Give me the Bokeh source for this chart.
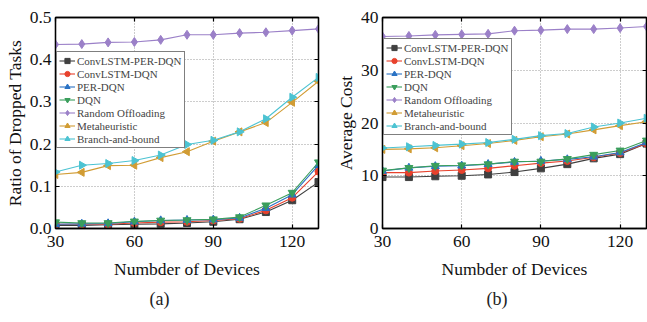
import math
from bokeh.plotting import figure
from bokeh.layouts import row
from bokeh.models import FixedTicker, LinearAxis, Title, Range1d, NumeralTickFormatter, CustomJSTickFormatter
from bokeh.embed import file_html
from bokeh.resources import INLINE

devices = [30, 40, 50, 60, 70, 80, 90, 100, 110, 120, 130]

names = ["ConvLSTM-PER-DQN", "ConvLSTM-DQN", "PER-DQN", "DQN",
         "Random Offloading", "Metaheuristic", "Branch-and-bound"]

# (a) Ratio of dropped tasks
drop_convlstm_per_dqn = [0.007, 0.007, 0.009, 0.010, 0.011, 0.013, 0.016, 0.022, 0.039, 0.067, 0.110]
drop_convlstm_dqn = [0.010, 0.010, 0.010, 0.013, 0.015, 0.016, 0.019, 0.023, 0.043, 0.073, 0.135]
drop_per_dqn = [0.010, 0.011, 0.012, 0.016, 0.019, 0.020, 0.021, 0.025, 0.048, 0.080, 0.150]
drop_dqn = [0.015, 0.013, 0.013, 0.017, 0.019, 0.020, 0.022, 0.027, 0.055, 0.085, 0.157]
drop_random = [0.436, 0.437, 0.441, 0.442, 0.447, 0.459, 0.459, 0.463, 0.465, 0.469, 0.473]
drop_meta = [0.128, 0.133, 0.149, 0.150, 0.168, 0.182, 0.207, 0.229, 0.251, 0.299, 0.349]
drop_bnb = [0.134, 0.150, 0.154, 0.161, 0.174, 0.199, 0.209, 0.229, 0.260, 0.311, 0.358]

# (b) Average cost
cost_convlstm_per_dqn = [9.75, 9.75, 9.9, 10.0, 10.25, 10.7, 11.4, 12.2, 13.3, 14.1, 16.1]
cost_convlstm_dqn = [10.6, 10.6, 10.9, 11.1, 11.4, 11.9, 12.4, 12.8, 13.5, 14.3, 16.1]
cost_per_dqn = [10.9, 11.5, 11.8, 11.9, 12.2, 12.6, 12.8, 13.1, 13.6, 14.4, 16.3]
cost_dqn = [11.0, 11.5, 11.9, 12.0, 12.2, 12.7, 12.7, 13.2, 14.0, 14.8, 16.7]
cost_random = [36.4, 36.5, 36.7, 36.8, 36.9, 37.5, 37.6, 37.8, 37.8, 38.0, 38.3]
cost_meta = [15.0, 15.1, 15.3, 15.7, 16.1, 16.7, 17.4, 17.9, 18.7, 19.5, 20.25]
cost_bnb = [15.25, 15.5, 15.75, 16.0, 16.3, 16.9, 17.6, 18.0, 19.25, 20.0, 20.9]

x_ticks = [30, 60, 90, 120]
y_ticks_a = [0.0, 0.1, 0.2, 0.3, 0.4, 0.5]
y_ticks_b = [0, 10, 20, 30, 40]

colors = ["#404040", "#e8412c", "#2a72c4", "#3a9e5c", "#9b80c8", "#d19c34", "#4cc3d2"]
markers = ["square", "circle", "triangle", "inverted_triangle", "diamond", "triangle", "triangle"]
angles = [0, 0, 0, 0, 0, math.pi / 2, -math.pi / 2]
sizes = [7, 7, 8, 8, 9, 8, 8]

FONT = "Liberation Serif"
H = 322


def make_fig(series, ylabel, yticks, ymax, width, mb_left, mb_top, mb_right, frame_h,
             caption, cap_offset, leg_loc, yfmt):
    p = figure(width=width, height=H, output_backend="svg", toolbar_location=None,
               title=None, x_range=Range1d(30, 130), y_range=Range1d(0, ymax),
               min_border_left=mb_left, min_border_right=mb_right, min_border_top=mb_top,
               min_border_bottom=H - mb_top - frame_h)
    p.background_fill_color = "white"
    p.border_fill_color = "white"
    p.outline_line_color = "black"
    p.outline_line_width = 1.3
    for i, (nm, ys) in enumerate(zip(names, series)):
        p.line(devices, ys, line_color=colors[i], line_width=1.1, legend_label=nm)
        p.scatter(devices, ys, marker=markers[i], size=sizes[i], angle=angles[i],
                  fill_color=colors[i], line_color=colors[i], legend_label=nm)
    # axes
    p.xaxis.ticker = FixedTicker(ticks=x_ticks)
    p.yaxis.ticker = FixedTicker(ticks=yticks)
    p.yaxis.formatter = yfmt
    for ax in [p.xaxis[0], p.yaxis[0]]:
        ax.major_label_text_font = FONT
        ax.major_label_text_font_size = "17.5px"
        ax.major_label_text_color = "#111111"
        ax.axis_label_text_font = FONT
        ax.axis_label_text_font_size = "17.5px"
        ax.axis_label_text_font_style = "normal"
        ax.axis_label_text_color = "#111111"
        ax.major_tick_in = 4
        ax.major_tick_out = 0
        ax.minor_tick_in = 0
        ax.minor_tick_out = 0
        ax.axis_line_width = 1.3
        ax.major_tick_line_width = 1.2
    p.xaxis.axis_label = "Numbder of Devices"
    p.yaxis.axis_label = ylabel
    p.xaxis.major_label_standoff = 7
    p.xaxis.axis_label_standoff = 9
    p.yaxis.major_label_standoff = 4
    p.yaxis.axis_label_standoff = 2
    # mirror ticks on top and right (no labels)
    blank = CustomJSTickFormatter(code="return ''")
    top = LinearAxis(ticker=FixedTicker(ticks=x_ticks), formatter=blank,
                     major_tick_in=4, major_tick_out=0, minor_tick_in=0, minor_tick_out=0,
                     major_label_standoff=0, axis_line_width=1.3, major_tick_line_width=1.2)
    right = LinearAxis(ticker=FixedTicker(ticks=yticks), formatter=blank,
                       major_tick_in=4, major_tick_out=0, minor_tick_in=0, minor_tick_out=0,
                       major_label_standoff=0, axis_line_width=1.3, major_tick_line_width=1.2)
    p.add_layout(top, "above")
    p.add_layout(right, "right")
    # grid
    p.xgrid.ticker = FixedTicker(ticks=x_ticks)
    p.ygrid.ticker = FixedTicker(ticks=yticks)
    for g in [p.xgrid[0], p.ygrid[0]]:
        g.grid_line_color = "#9a9a9a"
        g.grid_line_dash = "1 2"
        g.grid_line_width = 1
    # caption
    t = Title(text=caption, align="left", offset=cap_offset, text_font=FONT,
              text_font_size="18px", text_font_style="normal", text_color="#222222",
              standoff=10)
    p.add_layout(t, "below")
    # legend
    lg = p.legend[0]
    lg.location = leg_loc
    lg.margin = 0
    lg.padding = 2
    lg.spacing = 0
    lg.label_text_font = FONT
    lg.label_text_font_size = "11px"
    lg.label_height = 13
    lg.glyph_height = 13
    lg.glyph_width = 16
    lg.label_standoff = 2
    lg.border_line_color = "black"
    lg.border_line_width = 1
    lg.background_fill_alpha = 1
    return p


pa = make_fig([drop_convlstm_per_dqn, drop_convlstm_dqn, drop_per_dqn, drop_dqn, drop_random, drop_meta, drop_bnb],
              "Ratio of Dropped Tasks", y_ticks_a, 0.5, 330, 55, 17, 12, 211, "(a)", 94, (1, 80),
              NumeralTickFormatter(format="0.0"))
pb = make_fig([cost_convlstm_per_dqn, cost_convlstm_dqn, cost_per_dqn, cost_dqn, cost_random, cost_meta, cost_bnb],
              "Average Cost", y_ticks_b, 40, 317, 52, 14, 1, 214, "(b)", 104, (1, 93),
              NumeralTickFormatter(format="0"))

layout = row(pa, pb)
open("out.html", "w").write(file_html(layout, INLINE))
